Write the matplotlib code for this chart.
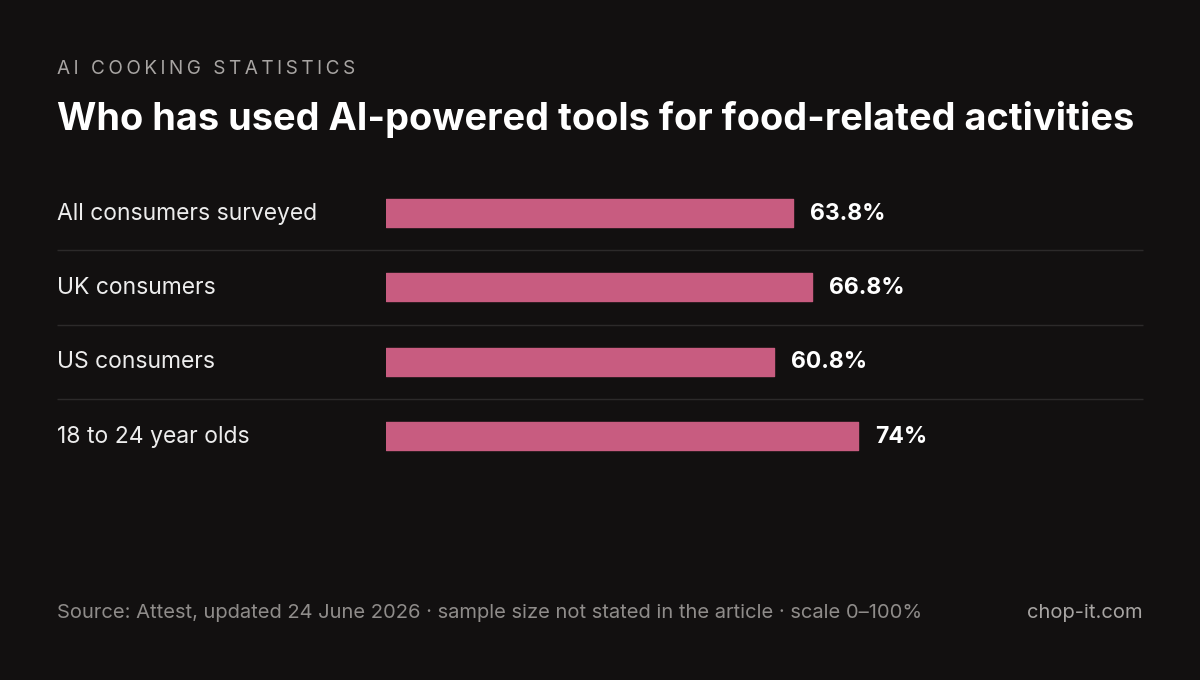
import matplotlib
matplotlib.use("Agg")
import matplotlib.pyplot as plt

categories = ["All consumers surveyed", "UK consumers", "US consumers", "18 to 24 year olds"]
values = [63.8, 66.8, 60.8, 74]
value_labels = ["63.8%", "66.8%", "60.8%", "74%"]

plt.rcParams['font.family'] = ['Inter', 'DejaVu Sans']
BG = "#121010"
W, H = 1200, 680
fig = plt.figure(figsize=(12, 6.8), dpi=100, facecolor=BG)

def fx(px): return px / W
def fy(py): return 1 - py / H

top, bot = 176, 473
ax = fig.add_axes([fx(386), fy(bot), fx(1024) - fx(386), (bot - top) / H])
ax.set_facecolor(BG)
ax.set_xlim(0, 100)
ax.set_ylim(len(categories) - 0.5, -0.5)
ax.axis("off")

ys = list(range(len(categories)))
ax.barh(ys, values, height=0.375, color="#C85C80", edgecolor="#C85C80", linewidth=1, joinstyle="round")
px2d = 100 / 638
for y, v, lab, cat in zip(ys, values, value_labels, categories):
    ax.text(v + 17 * px2d, y + 0.01, lab, va="center", ha="left", color="white",
            fontsize=16.5, fontweight="bold")
    ax.text((57 - 386) * px2d, y + 0.01, cat, va="center", ha="left", color="#EDEDED", fontsize=16.5)
ax.hlines([0.5, 1.5, 2.5], (57 - 386) * px2d, (1143 - 386) * px2d, color="#2C2A2A",
          linewidth=1, clip_on=False)

sub = "\u2009".join("AI COOKING STATISTICS")
fig.text(fx(57), fy(69), sub, color="#A8A5A3", fontsize=13.7, va="center", ha="left")
fig.text(fx(57), fy(119), "Who has used AI-powered tools for food-related activities",
         color="white", fontsize=27.3, fontweight="bold", va="center", ha="left")
fig.text(fx(57), fy(613), "Source: Attest, updated 24 June 2026 · sample size not stated in the article · scale 0–100%",
         color="#8F8C8A", fontsize=14.5, va="center", ha="left")
fig.text(fx(1143), fy(613), "chop-it.com", color="#A8A5A3", fontsize=14.5, va="center", ha="right")

fig.savefig("out.png", dpi=100, facecolor=BG)
